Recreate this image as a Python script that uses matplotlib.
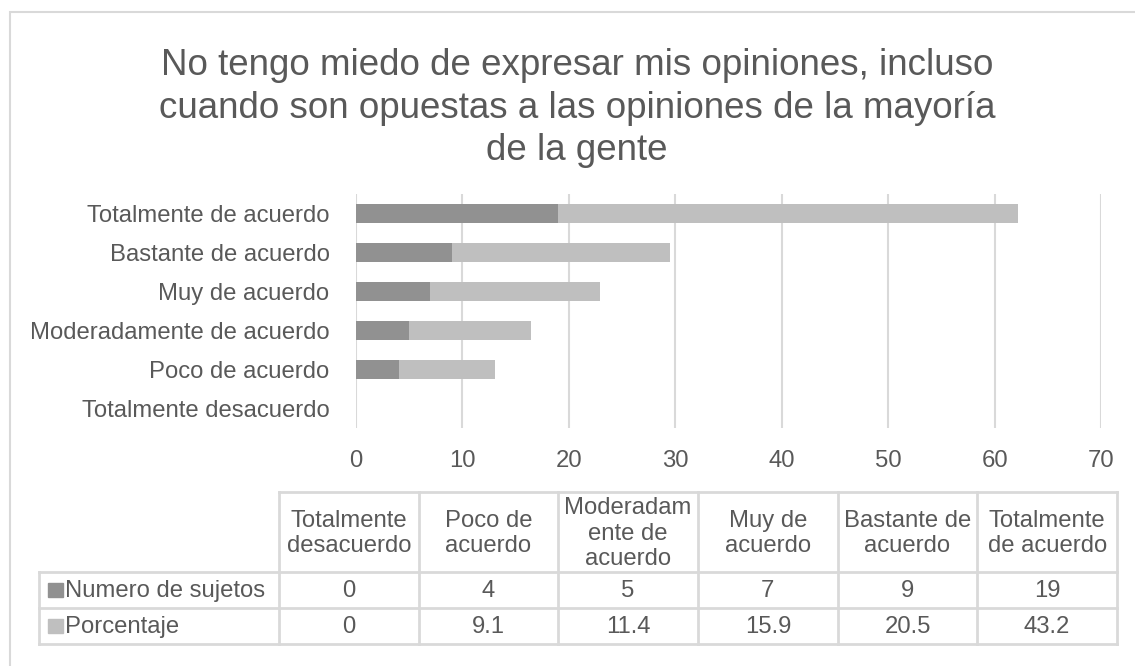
import matplotlib.pyplot as plt
from matplotlib.patches import Rectangle

plt.rcParams['font.family'] = ['Liberation Sans', 'DejaVu Sans']

# data
categorias = ['Totalmente desacuerdo', 'Poco de acuerdo', 'Moderadamente de acuerdo',
              'Muy de acuerdo', 'Bastante de acuerdo', 'Totalmente de acuerdo']
cabeceras = ['Totalmente\ndesacuerdo', 'Poco de\nacuerdo', 'Moderadam\nente de\nacuerdo',
             'Muy de\nacuerdo', 'Bastante de\nacuerdo', 'Totalmente\nde acuerdo']
series = ['Numero de sujetos', 'Porcentaje']
sujetos = [0, 4, 5, 7, 9, 19]
porcentaje = [0, 9.1, 11.4, 15.9, 20.5, 43.2]
titulo = ('No tengo miedo de expresar mis opiniones, incluso\n'
          'cuando son opuestas a las opiniones de la mayoría\nde la gente')

W, H = 1135, 666
colores = ['#919191', '#bfbfbf']
txt = '#595959'
linea = '#d9d9d9'
fs = 17.2

fig = plt.figure(figsize=(W / 100, H / 100), dpi=100)

# outer chart border (cut at right and bottom)
fig.patches.append(Rectangle((10 / W, -0.1), 1.2, (H - 12) / H + 0.1,
                             transform=fig.transFigure, fill=False,
                             edgecolor=linea, lw=1.5, clip_on=False))

fig.text(577 / W, (H - 108) / H, titulo, ha='center', va='center',
         fontsize=26.5, color=txt, linespacing=1.27)

# bar chart
ax = fig.add_axes([356 / W, (H - 428) / H, (1101 - 356) / W, (428 - 194) / H])
y = range(len(categorias))
ax.barh(y, sujetos, height=0.5, color=colores[0], zorder=3)
ax.barh(y, porcentaje, left=sujetos, height=0.5, color=colores[1], zorder=3)
ax.set_xlim(0, 70)
ax.set_ylim(-0.5, len(categorias) - 0.5)
ax.set_xticks(range(0, 71, 10))
ax.set_yticks(list(y))
ax.set_yticklabels(categorias)
ax.tick_params(axis='both', length=0, labelsize=fs, colors=txt)
ax.tick_params(axis='y', pad=19)
ax.tick_params(axis='x', pad=16)
ax.grid(axis='x', color=linea, lw=1.5, zorder=0)
for s in ax.spines.values():
    s.set_visible(False)

# data table
tx0, tx1 = 39, 1117
ty0, ty1 = 492, 644
tab = fig.add_axes([tx0 / W, (H - ty1) / H, (tx1 - tx0) / W, (ty1 - ty0) / H])
lab_w = 240 / ((tx1 - tx0 - 240) / len(cabeceras))
ncol = len(cabeceras)
hh = 80 / 36  # header height in row units
nrow = len(series)
tab.set_xlim(-lab_w, ncol)
tab.set_ylim(nrow + hh, 0)
tab.axis('off')
kw = dict(color=linea, lw=2, solid_capstyle='projecting', clip_on=False)

# borders
for i in range(ncol + 1):
    tab.plot([i, i], [0, nrow + hh], **kw)
tab.plot([0, ncol], [0, 0], **kw)
tab.plot([-lab_w, -lab_w], [hh, nrow + hh], **kw)
for r in range(nrow + 1):
    tab.plot([-lab_w, ncol], [hh + r, hh + r], **kw)

for i, c in enumerate(cabeceras):
    tab.text(i + 0.5, hh / 2 + 0.05, c, ha='center', va='center', fontsize=fs,
             color=txt, linespacing=1.2)

for r, (nombre, vals) in enumerate(zip(series, [sujetos, porcentaje])):
    yc = hh + r + 0.5
    tab.add_patch(Rectangle((-lab_w + 0.065, yc - 0.2), 0.105, 0.4,
                            color=colores[r], clip_on=False))
    tab.text(-lab_w + 0.185, yc + 0.03, nombre, ha='left', va='center',
             fontsize=fs, color=txt)
    for i, v in enumerate(vals):
        tab.text(i + 0.5, yc + 0.03, f'{v:g}', ha='center', va='center',
                 fontsize=fs, color=txt)

fig.savefig('out.png', dpi=100)
